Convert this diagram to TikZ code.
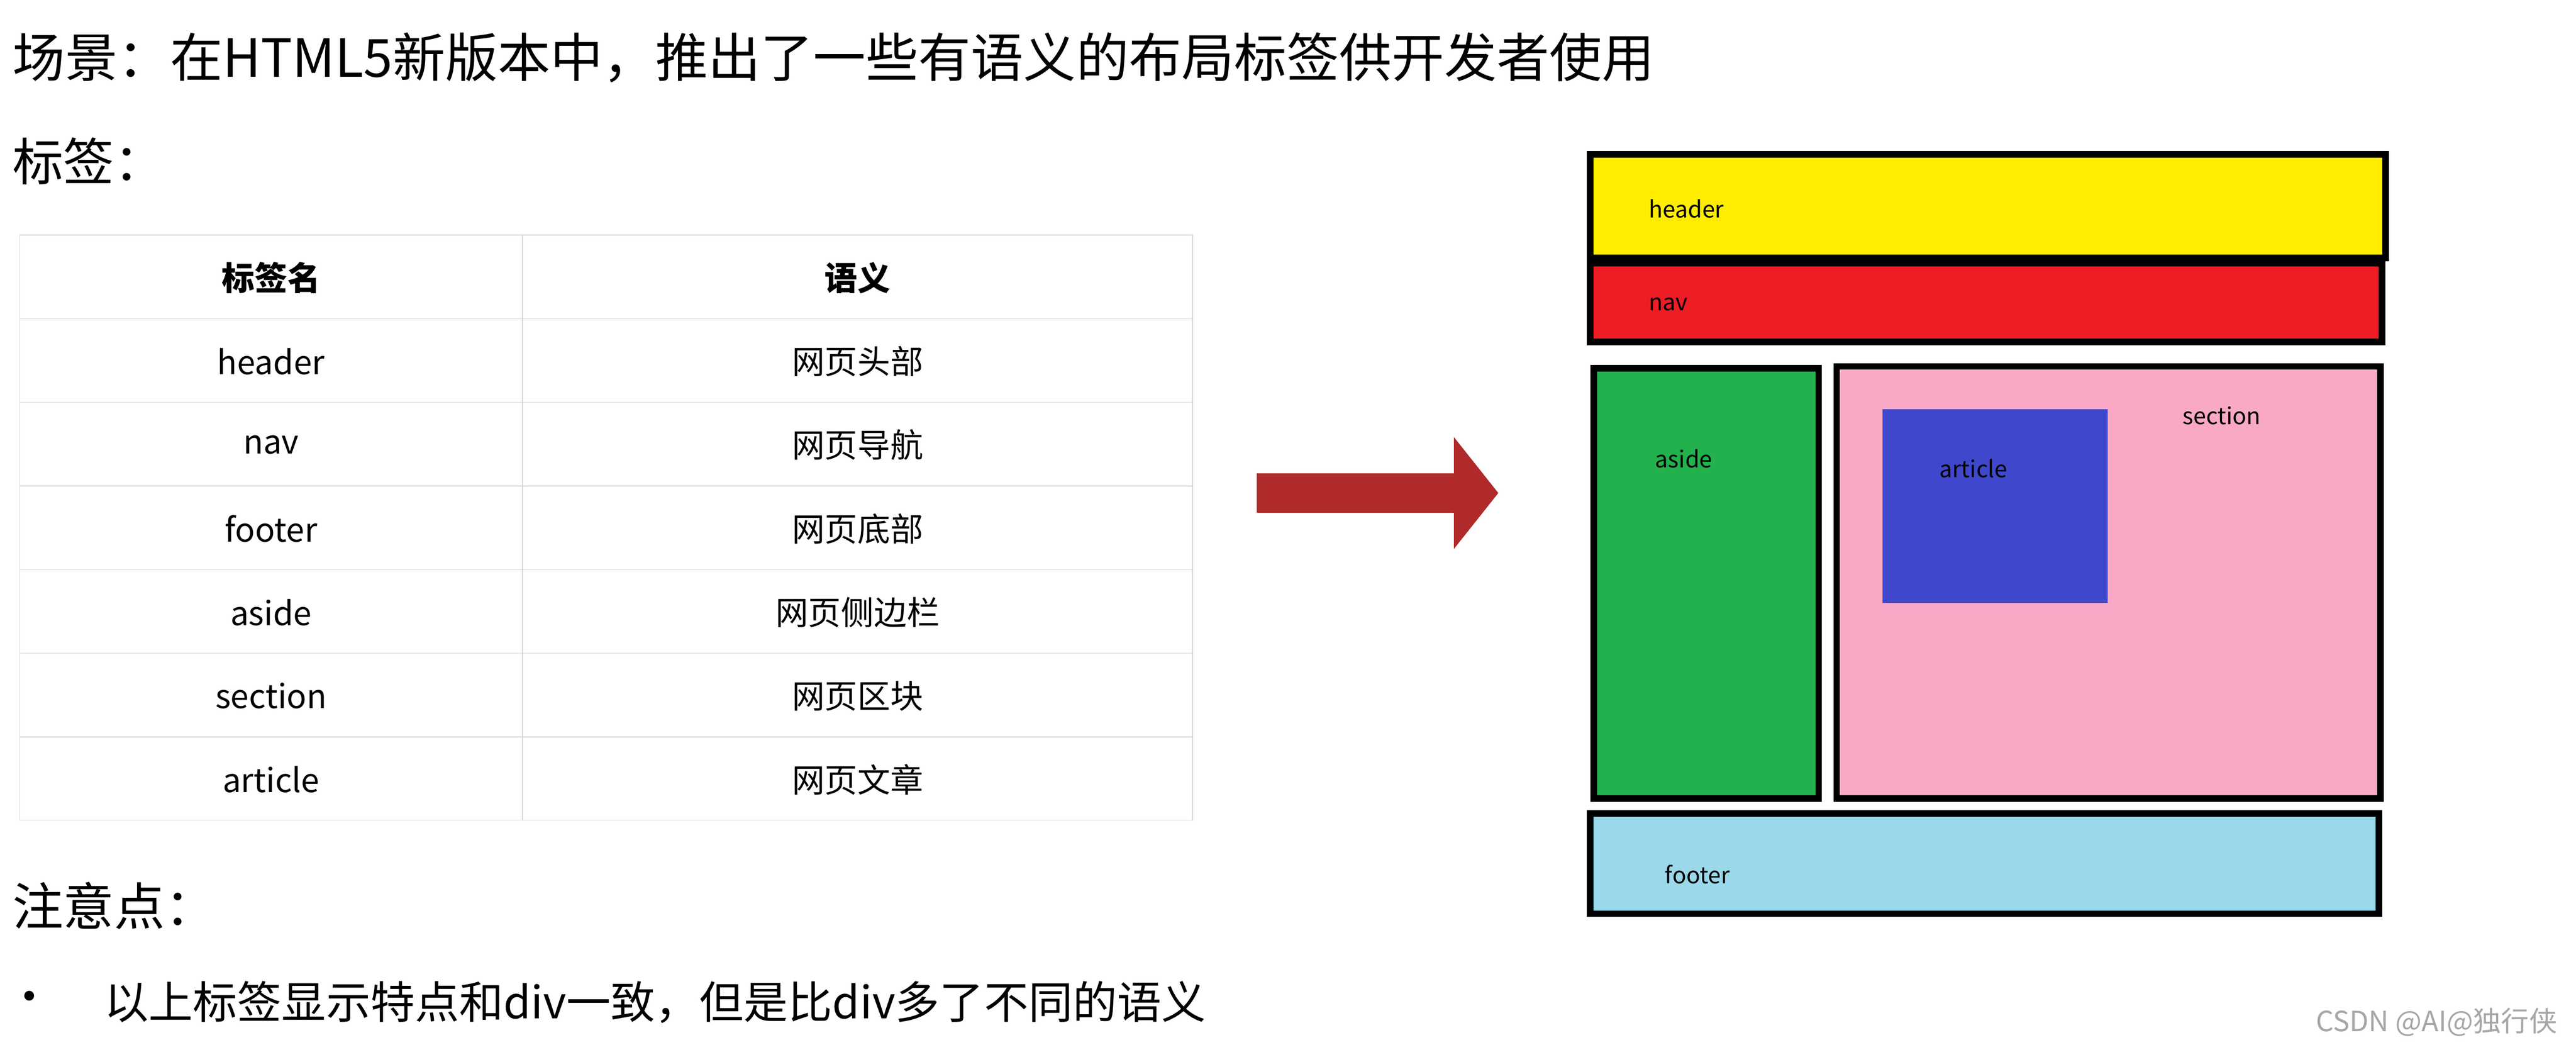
\documentclass[tikz,border=0pt]{standalone}
\usepackage{fontspec}
\setmainfont{Noto Sans CJK SC}
\usepackage{tikz}
\usetikzlibrary{positioning,shapes.arrows}
\definecolor{hdrY}{HTML}{FFED00}
\definecolor{navR}{HTML}{EE1C25}
\definecolor{asdG}{HTML}{22B14C}
\definecolor{secP}{HTML}{F9A9C6}
\definecolor{artB}{HTML}{3F48CC}
\definecolor{ftrB}{HTML}{9AD8EA}
\definecolor{arrR}{HTML}{B02A2A}
\definecolor{gridG}{HTML}{D6D6D6}
\tikzset{
  block/.style={draw=black,line width=4pt},
  blabel/.style={font=\fontsize{14}{16}\selectfont,anchor=west},
  cell/.style={font=\fontsize{20}{24}\selectfont},
  big/.style={font=\fontsize{32}{36}\selectfont,anchor=west}
}
\begin{document}
\begin{tikzpicture}[x=1pt,y=-1pt]
	\useasboundingbox (0,0) rectangle (1568,643);
	% heading texts
	\node (title) at (4,35)  [big] {场景：在HTML5新版本中，推出了一些有语义的布局标签供开发者使用};
	\node (tags)  at (4,98)  [big,font=\fontsize{31}{36}\selectfont] {标签：};
	\node (note)  at (4,551) [big,font=\fontsize{31}{36}\selectfont] {注意点：};
	\node (dot)   at (18,610) [font=\fontsize{28}{30}\selectfont] {•};
	\node (tip)   at (60,610) [big,font=\fontsize{27}{32}\selectfont] {以上标签显示特点和div一致，但是比div多了不同的语义};

	% table
	\draw[gridG] (12,143) rectangle (726,499);
	\draw[gridG] (318,143) -- (318,499);
	\foreach \r in {1,...,6}
		\draw[gridG] (12,143+\r*50.9) -- (726,143+\r*50.9);
	\node (h1) at (165,169) [cell,font=\bfseries\fontsize{20}{24}\selectfont] {标签名};
	\node (h2) at (522,169) [cell,font=\bfseries\fontsize{20}{24}\selectfont] {语义};
	\foreach \t/\m [count=\i] in {header/网页头部,nav/网页导航,footer/网页底部,aside/网页侧边栏,section/网页区块,article/网页文章} {
		\node (t\i) at (165,169+\i*50.9) [cell] {\t};
		\node (m\i) at (522,169+\i*50.9) [cell] {\m};
	}

	% arrow
	\fill[arrR] (765,288) -- (885,288) -- (885,266) -- (912,300) -- (885,334)
		-- (885,312) -- (765,312) -- cycle;

	% layout blocks
	\draw[block,fill=hdrY] (968,94) rectangle (1452,157);
	\node (hdr) at (1000,127) [blabel] {header};
	\draw[block,fill=navR] (968,160) rectangle (1450,208);
	\node (nav) at (1000,185) [blabel] {nav};
	\draw[block,fill=asdG] (970,224) rectangle (1107,486);
	\node (asd) at (1004,279) [blabel] {aside};
	\draw[block,fill=secP] (1118,223) rectangle (1449,486);
	\node (sec) at (1325,253) [blabel] {section};
	\fill[artB] (1146,249) rectangle (1283,367);
	\node (art) at (1177,285) [blabel] {article};
	\draw[block,fill=ftrB] (968,495) rectangle (1448,556);
	\node (ftr) at (1010,532) [blabel] {footer};

	% watermark
	\node (wm) at (1560,622) [anchor=east,text=gray!70,font=\fontsize{17}{20}\selectfont] {CSDN @AI@独行侠};
\end{tikzpicture}
\end{document}
